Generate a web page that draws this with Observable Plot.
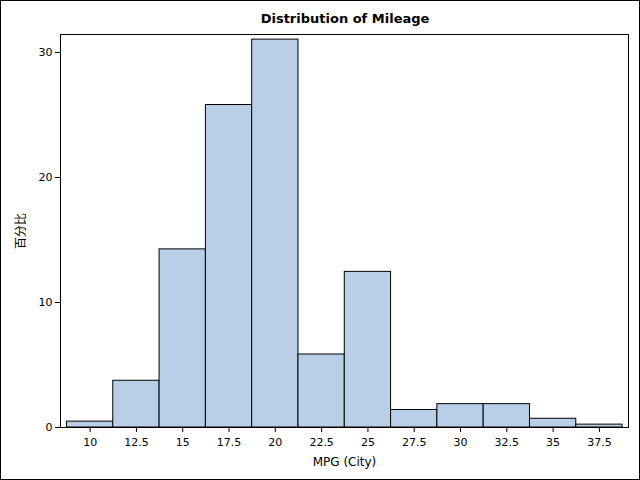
<!DOCTYPE html>
<html>
<head>
<meta charset="utf-8">
<script src="https://cdn.jsdelivr.net/npm/d3@7"></script>
<script src="https://cdn.jsdelivr.net/npm/@observablehq/plot@0.6"></script>
<style>
  html, body { margin: 0; padding: 0; background: #fff; }
  #wrap { width: 640px; height: 480px; box-sizing: border-box; border: 1px solid #000; background: #fff; }
  #title { height: 27px; font: bold 13px "DejaVu Sans", sans-serif; line-height: 36px; text-align: center; color: #000; padding-left: 50px; box-sizing: border-box; overflow: visible; }
  svg { display: block; }
</style>
</head>
<body>
<div id="wrap">
  <div id="title">Distribution of Mileage</div>
  <div id="chart"></div>
</div>
<script>
const binLower = [8.75, 11.25, 13.75, 16.25, 18.75, 21.25, 23.75, 26.25, 28.75, 31.25, 33.75, 36.25];
const binUpper = [11.25, 13.75, 16.25, 18.75, 21.25, 23.75, 26.25, 28.75, 31.25, 33.75, 36.25, 38.75];
const percent  = [0.47, 3.74, 14.25, 25.8, 31.03, 5.84, 12.45, 1.4, 1.87, 1.87, 0.7, 0.23];
const xTicks = [10, 12.5, 15, 17.5, 20, 22.5, 25, 27.5, 30, 32.5, 35, 37.5];
const yTicks = [0, 10, 20, 30];
const xLabel = "MPG (City)";
const yLabel = "百分比";

const bins = binLower.map((lo, i) => ({lo, hi: binUpper[i], pct: percent[i]}));

const chart = Plot.plot({
  width: 638,
  height: 451,
  marginLeft: 59,
  marginRight: 11,
  marginTop: 6,
  marginBottom: 52,
  style: {fontFamily: "DejaVu Sans, sans-serif", fontSize: "11px", color: "#000", background: "#fff"},
  x: {domain: [8.40, 39.07]},
  y: {domain: [0, 31.44]},
  marks: [
    Plot.rect(bins, {x1: "lo", x2: "hi", y1: 0, y2: "pct", fill: "#b9cfe7", stroke: "#000", strokeWidth: 1}),
    Plot.frame({stroke: "#000", strokeWidth: 1}),
    Plot.axisX({ticks: xTicks, tickFormat: d => String(d), tickSize: 5, tickPadding: 6, fontSize: 11, label: null}),
    Plot.axisY({ticks: yTicks, tickFormat: d => String(d), tickSize: 5, tickPadding: 3, fontSize: 11, label: null}),
    Plot.text([xLabel], {frameAnchor: "bottom", dy: 35, fontSize: 12, text: d => d, lineAnchor: "middle"}),
    Plot.text([yLabel], {frameAnchor: "left", dx: -39, rotate: -90, textAnchor: "middle", fontSize: 12, text: d => d, fontFamily: "Noto Sans CJK SC"})
  ]
});
document.getElementById("chart").appendChild(chart);
</script>
</body>
</html>
